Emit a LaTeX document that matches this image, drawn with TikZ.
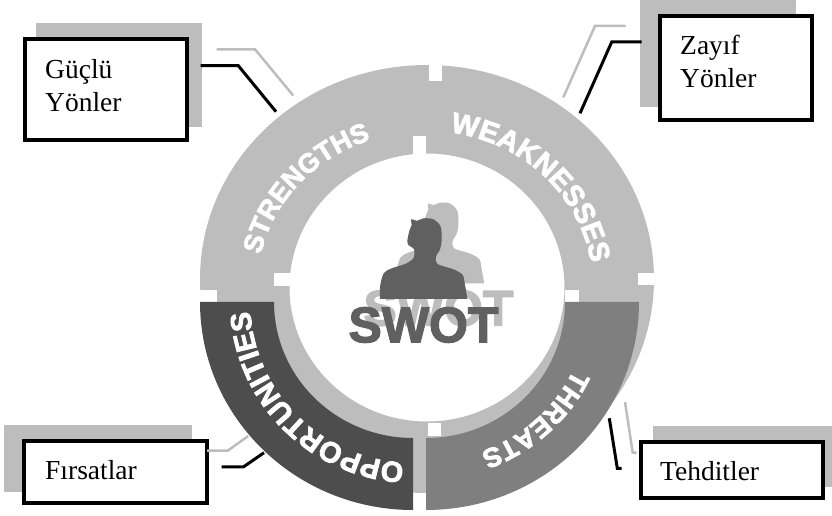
\documentclass[tikz,border=0pt]{standalone}
\usepackage{fontspec}
\setmainfont{Liberation Serif}
\newfontfamily\swotfont{Liberation Sans}[BoldFeatures={FakeBold=2.5}]
\usetikzlibrary{decorations.text}
\definecolor{ringgray}{HTML}{BDBDBD}
\definecolor{oppgray}{HTML}{4D4D4D}
\definecolor{threatgray}{HTML}{7F7F7F}
\definecolor{persongray}{HTML}{606060}
\tikzset{
	labelbox/.style={draw=black,line width=4pt,fill=white,anchor=south west,inner sep=0pt},
	backbox/.style={fill=ringgray,anchor=south west,inner sep=0pt},
	labeltext/.style={font=\fontsize{27.5}{33}\selectfont,anchor=base west,align=left,inner sep=0pt},
	swotword/.style={inner sep=0pt,font=\swotfont\bfseries\fontsize{50}{50}\selectfont},
	leader/.style={draw=black,line width=3pt},
	backleader/.style={draw=ringgray,line width=2.5pt},
	notch/.style={fill=white,draw=none},
	person/.pic={
		\fill plot [smooth,tension=.5] coordinates {(-43.7,0) (-43.7,12.3) (-40,25.7) (-32,30.7) (-18.7,35) (-10.3,40.7) (-9.7,49.7) (-15.3,54) (-16.3,58.7) (-14.3,68.3) (-12,74.3) (-12.7,79.7) (-6.3,78.3) (-.3,80.7) (9.7,79.7) (17,72.3) (18,58.7) (16.3,49.7) (12.3,42.3) (13.7,35) (29.7,29.7) (39,24) (41.3,14) (43.7,0)} -- cycle;
	}
}
\newcommand{\ringfont}{\swotfont\bfseries\fontsize{29}{29}\selectfont\color{white}}
\newcommand{\threatfont}{\swotfont\bfseries\fontsize{27}{27}\selectfont\color{white}}
\begin{document}
\begin{tikzpicture}[x=1pt,y=1pt]
	\useasboundingbox (0,0) rectangle (832,516);
	% Grauer Ring
	\fill[ringgray,even odd rule] (427,237) ellipse [x radius=227,y radius=214] (427,228.5) ellipse [x radius=137.5,y radius=134];
	% Kerben im Ring
	\fill[notch] (429,435.3) rectangle (441.7,456);
	\fill[notch] (413,361) rectangle (425.5,380);
	\fill[notch] (638,231) rectangle (656,243);
	\fill[notch] (565,214) rectangle (579,226);
	\fill[notch] (428,80) rectangle (441,93);
	\fill[notch] (198,214) rectangle (217,226);
	\fill[notch] (274,230) rectangle (291,243);
	% Dunkle Viertel
	\fill[oppgray] (200,214) arc [start angle=180,end angle=270,x radius=213,y radius=208] -- (413,78) arc [start angle=270,end angle=180,x radius=139,y radius=136] -- cycle;
	\fill[threatgray] (426,6) arc [start angle=270,end angle=360,x radius=213,y radius=208] -- (565,214) arc [start angle=0,end angle=-90,x radius=139,y radius=136] -- cycle;
	% Ringbeschriftung
	\path[decorate,decoration={text along path,text align=center,text={|\threatfont|STRENGTHS}}] (427,229) ++(189:170 and 156) arc [start angle=189,end angle=90,x radius=170,y radius=156];
	\path[decorate,decoration={text along path,text align=center,text={|\ringfont|WEAKNESSES}}] (427,229) ++(95:166 and 156) arc [start angle=95,end angle=-5,x radius=166,y radius=156];
	\path[decorate,decoration={text along path,text align=center,text={|\ringfont|OPPORTUNITIES}}] (413,214) ++(285:163 and 161) arc [start angle=285,end angle=165,x radius=163,y radius=161];
	\path[decorate,decoration={text along path,text align=center,text={|\threatfont|THREATS}}] (426,214) ++(-2:163 and 159) arc [start angle=-2,end angle=-93,x radius=163,y radius=159];
	% Mitte
	\pic[ringgray] at (440.4,232.7) {person};
	\node[swotword,text=ringgray] (swotback) at (438.5,207.7) {SWOT};
	\pic[persongray] at (423.7,217) {person};
	\node[swotword,text=persongray] (swot) at (423.5,191) {SWOT};
	% Kaesten hinten
	\node[backbox,minimum width=166pt,minimum height=104pt] (gucluback) at (36,389) {};
	\node[backbox,minimum width=156pt,minimum height=107pt] (zayifback) at (640,409) {};
	\node[backbox,minimum width=188pt,minimum height=67pt] (firsatback) at (4,24) {};
	\node[backbox,minimum width=180pt,minimum height=61pt] (tehditback) at (652.7,29) {};
	% Kaesten vorne
	\node[labelbox,minimum width=162pt,minimum height=100.7pt] (guclu) at (22.7,374) {};
	\node[labelbox,minimum width=151.7pt,minimum height=104pt] (zayif) at (658,394) {};
	\node[labelbox,minimum width=183.3pt,minimum height=62.6pt] (firsat) at (22,10.7) {};
	\node[labelbox,minimum width=182pt,minimum height=56pt] (tehdit) at (639.3,15.7) {};
	\node[labeltext] (guclutext) at (45,404) {Güçlü\\Yönler};
	\node[labeltext] (zayiftext) at (680,428) {Zayıf\\Yönler};
	\node[labeltext] (firsattext) at (45,36) {Fırsatlar};
	\node[labeltext] (tehdittext) at (660,35) {Tehditler};
	% Linien
	\coordinate (gucluA) at (200.7,450.3);
	\coordinate (gucluB) at (238.3,450.3);
	\coordinate (gucluC) at (276,404.3);
	\coordinate (gucluD) at (216.7,466.7);
	\coordinate (gucluE) at (255,466.7);
	\coordinate (gucluF) at (293.3,420.3);
	\coordinate (zayifA) at (641.7,474);
	\coordinate (zayifB) at (611.7,474);
	\coordinate (zayifC) at (580,402.7);
	\coordinate (zayifD) at (625.7,490);
	\coordinate (zayifE) at (595,490);
	\coordinate (zayifF) at (563.3,418.7);
	\coordinate (firsatA) at (221.7,49);
	\coordinate (firsatB) at (243.3,49);
	\coordinate (firsatC) at (264,63.3);
	\coordinate (firsatD) at (207,65.3);
	\coordinate (firsatE) at (227.7,65.3);
	\coordinate (firsatF) at (248.3,80);
	\coordinate (tehditA) at (621.7,47.7);
	\coordinate (tehditB) at (617.3,47.7);
	\coordinate (tehditC) at (609.3,97.7);
	\coordinate (tehditD) at (636.7,63.3);
	\coordinate (tehditE) at (632.7,63.3);
	\coordinate (tehditF) at (625,114);
	\foreach \n in {guclu,zayif,firsat,tehdit} {
		\draw[backleader] (\n D) -- (\n E) -- (\n F);
		\draw[leader] (\n A) -- (\n B) -- (\n C);
	}
\end{tikzpicture}
\end{document}
